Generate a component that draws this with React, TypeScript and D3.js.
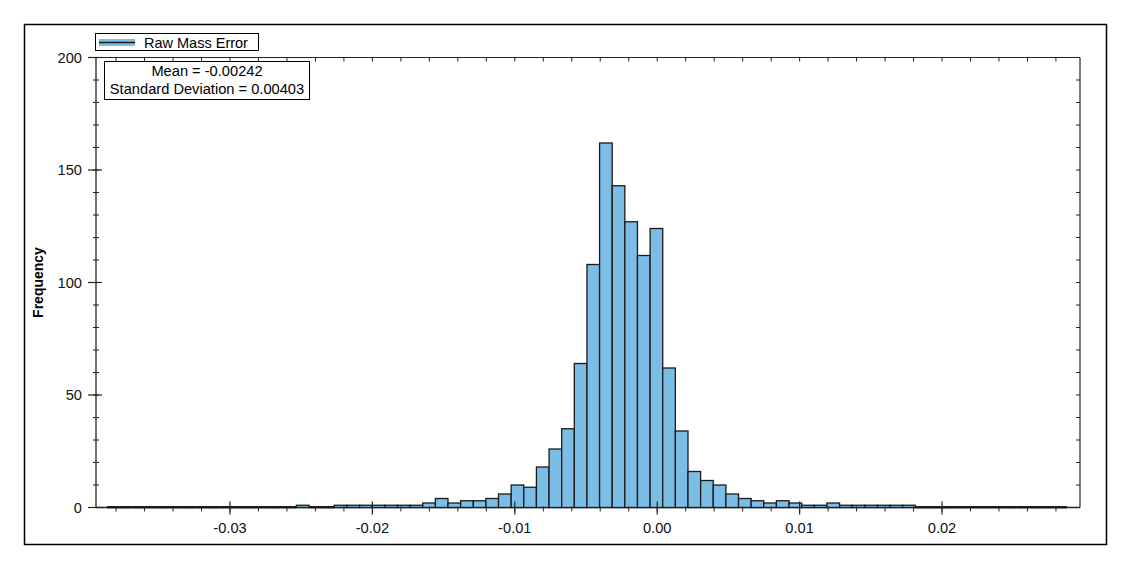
import React from "react";
import * as d3 from "d3";

// ---- data ----
const binStart = -0.03864;
const binWidth = 0.000887;
const counts = [
  0, 0, 0, 0, 0, 0, 0, 0, 0, 0, 0, 0, 0, 0, 0,
  1, 0, 0,
  1, 1, 1, 1, 1, 1, 1,
  2, 4, 2, 3, 3, 4, 6, 10, 9, 18, 26, 35, 64, 108, 162, 143, 127, 112, 124,
  62, 34, 16, 12, 10, 6, 4, 3, 2, 3, 2, 1, 1, 2,
  1, 1, 1, 1, 1, 1,
  0, 0, 0, 0, 0, 0, 0, 0, 0, 0, 0, 0,
];
const xMajorTicks = [-0.03, -0.02, -0.01, 0, 0.01, 0.02];
const xMajorLabels = ["-0.03", "-0.02", "-0.01", "0.00", "0.01", "0.02"];
const yMajorTicks = [0, 50, 100, 150, 200];
const yMajorLabels = ["0", "50", "100", "150", "200"];
const seriesName = "Raw Mass Error";
const yTitle = "Frequency";
const statLines = ["Mean = -0.00242", "Standard Deviation = 0.00403"];

const W = 1132;
const H = 569;
const FONT = "'Liberation Sans', Arial, sans-serif";

export default function App() {
  const x = d3.scaleLinear().domain([-0.03941, 0.02969]).range([96, 1080]);
  const y = d3.scaleLinear().domain([0, 200]).range([507.5, 57.5]);
  const [x0, x1] = x.range();
  const [yb, yt] = y.range();

  const xMinor = d3.range(-38, 29, 2).map((v) => v / 1000);
  const yMinor = d3.range(0, 201, 10);

  const bins = counts.map((c, i) => ({
    a: binStart + i * binWidth,
    b: binStart + (i + 1) * binWidth,
    c,
  }));

  return (
    <svg
      width={W}
      height={H}
      style={{ position: "absolute", left: 0, top: 0, background: "#fff" }}
      fontFamily={FONT}
    >
      <rect x={0} y={0} width={W} height={H} fill="#fff" />
      {/* outer border */}
      <rect x={24.5} y={24.5} width={1082} height={520} fill="none" stroke="#000" strokeWidth={1.5} />

      {/* frame top / right */}
      <line x1={x0} x2={x1} y1={yt} y2={yt} stroke="#222" strokeWidth={1.2} />
      <line x1={x1} x2={x1} y1={yt} y2={yb} stroke="#222" strokeWidth={1.2} />
      {xMinor.map((v, i) => (
        <line key={"tt" + i} x1={x(v)} x2={x(v)} y1={yt} y2={yt + 4} stroke="#222" strokeWidth={1} />
      ))}
      {yMinor.map((v, i) => (
        <line key={"rt" + i} x1={x1} x2={x1 - 4} y1={y(v)} y2={y(v)} stroke="#222" strokeWidth={1} />
      ))}

      {/* x axis line */}
      <line x1={x0} x2={x1} y1={yb} y2={yb} stroke="#222" strokeWidth={1.3} />

      {/* bars */}
      {bins.map((d, i) =>
        d.c > 0 ? (
          <rect
            key={"b" + i}
            x={x(d.a)}
            y={y(d.c)}
            width={x(d.b) - x(d.a)}
            height={yb - y(d.c)}
            fill="#7bbde4"
            stroke="#1a1a1a"
            strokeWidth={1.3}
          />
        ) : (
          <line
            key={"b" + i}
            x1={x(d.a)}
            x2={x(d.b)}
            y1={yb - 0.3}
            y2={yb - 0.3}
            stroke="#1a1a1a"
            strokeWidth={2.4}
          />
        )
      )}

      {/* x ticks */}
      {xMinor.map((v, i) => (
        <line key={"xm" + i} x1={x(v)} x2={x(v)} y1={yb - 1} y2={yb + 4} stroke="#222" strokeWidth={1} />
      ))}
      {xMajorTicks.map((v, i) => (
        <g key={"xM" + i}>
          <line x1={x(v)} x2={x(v)} y1={yb - 6} y2={yb + 7} stroke="#222" strokeWidth={1.2} />
          <text x={x(v)} y={533} textAnchor="middle" fontSize={14.67} fill="#111">
            {xMajorLabels[i]}
          </text>
        </g>
      ))}

      {/* y axis */}
      <line x1={x0} x2={x0} y1={yt} y2={yb} stroke="#222" strokeWidth={1.3} />
      {yMinor.map((v, i) => (
        <line key={"ym" + i} x1={x0 - 3} x2={x0 + 3} y1={y(v)} y2={y(v)} stroke="#222" strokeWidth={1} />
      ))}
      {yMajorTicks.map((v, i) => (
        <g key={"yM" + i}>
          <line x1={x0 - 8} x2={x0 + 6} y1={y(v)} y2={y(v)} stroke="#222" strokeWidth={1.2} />
          <text x={82} y={y(v) + 5} textAnchor="end" fontSize={14.67} fill="#111">
            {yMajorLabels[i]}
          </text>
        </g>
      ))}
      <text
        transform={`translate(43, ${(yt + yb) / 2}) rotate(-90)`}
        textAnchor="middle"
        fontSize={14}
        fontWeight="bold"
        fill="#000"
      >
        {yTitle}
      </text>

      {/* legend */}
      <rect x={95.5} y={33.5} width={163} height={17} fill="#fff" stroke="#000" strokeWidth={1} />
      <rect x={99} y={39} width={36} height={7} fill="#7bbde4" />
      <line x1={99} x2={135} y1={42.5} y2={42.5} stroke="#1a1a1a" strokeWidth={1.6} />
      <text x={144} y={47.5} fontSize={14.5} fill="#000">
        {seriesName}
      </text>

      {/* stats box */}
      <rect x={104.5} y={61.5} width={205} height={38} fill="#fff" stroke="#000" strokeWidth={1} />
      {statLines.map((s, i) => (
        <text key={"s" + i} x={207} y={76 + i * 18} textAnchor="middle" fontSize={14.67} fill="#000">
          {s}
        </text>
      ))}
    </svg>
  );
}
